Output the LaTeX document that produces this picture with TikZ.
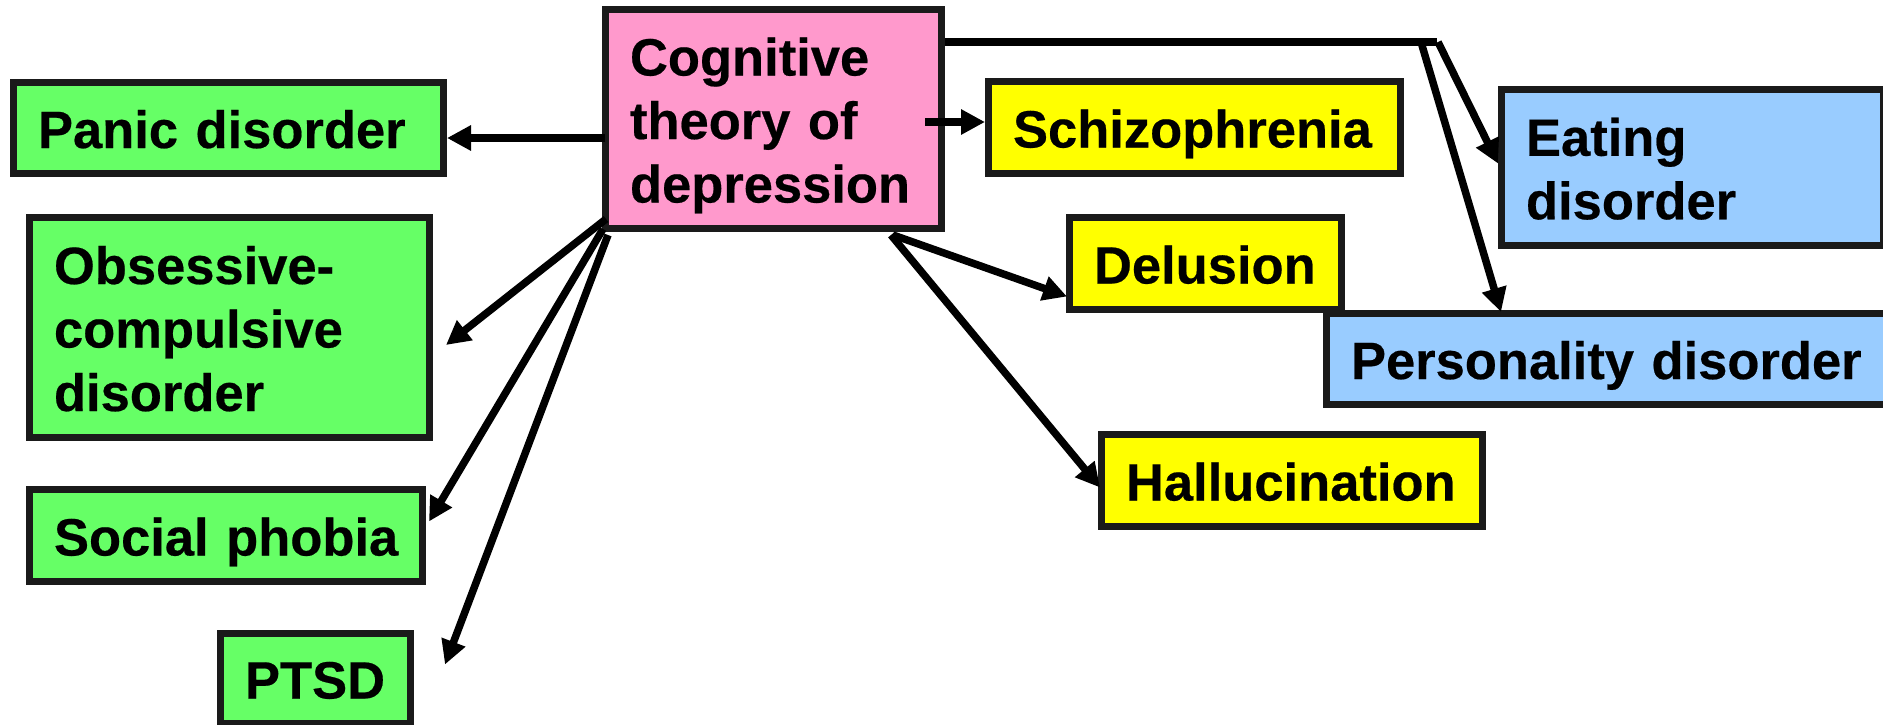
\documentclass[tikz,border=0pt]{standalone}
\usepackage{fontspec}
\setmainfont{Liberation Sans}[BoldFeatures={FakeBold=0.4}]
\usetikzlibrary{arrows.meta,calc}
\definecolor{pinkf}{HTML}{FF99CC}
\definecolor{greenf}{HTML}{66FF66}
\definecolor{yellowf}{HTML}{FFFF00}
\definecolor{bluef}{HTML}{99CCFF}
\definecolor{edgec}{HTML}{1A1A1A}
\newcommand{\fst}{\rule{0pt}{52pt}}
\newcommand{\lst}{\rule[-12pt]{0pt}{12pt}}
\begin{document}
\begin{tikzpicture}[x=1pt,y=-1pt,
  box/.style={draw=edgec, line width=7pt, inner xsep=24.5pt, inner ysep=0pt,
    align=left, font=\fontsize{52.5}{63.5}\selectfont\bfseries, anchor=center},
  conn/.style={line width=7.5pt, draw=black, -{Triangle[length=24pt,width=24pt]}},
  plain/.style={line width=7.5pt, draw=black},
]
\useasboundingbox (0,0) rectangle (1883,724);
\clip (0,0) rectangle (1883,724);
\fill[white] (0,0) rectangle (1883,724);

% boxes
\node[box, fill=pinkf, minimum width=336pt, minimum height=219pt, text width=287pt] (cog) at (773.5,119)
  {\fst Cognitive\\theory of\\depression\lst};
\node[box, fill=greenf, minimum width=430pt, minimum height=91pt, text width=381pt] (panic) at (228.5,128)
  {\fst\mbox{Panic disorder}\lst};
\node[box, fill=greenf, minimum width=400pt, minimum height=220pt, text width=351pt] (ocd) at (229.5,327.5)
  {\fst Obsessive-\\compulsive\\disorder\lst};
\node[box, fill=greenf, minimum width=393pt, minimum height=92pt, text width=344pt] (social) at (226,535.5)
  {\fst\mbox{Social phobia}\lst};
\node[box, fill=greenf, minimum width=190pt, minimum height=90pt, text width=141pt] (ptsd) at (315.5,678.5)
  {\fst\mbox{PTSD}\lst};
\node[box, fill=yellowf, minimum width=412pt, minimum height=92pt, text width=363pt] (schiz) at (1194.5,127.5)
  {\fst\mbox{Schizophrenia}\lst};
\node[box, fill=yellowf, minimum width=272pt, minimum height=92pt, text width=223pt] (delu) at (1205.5,263.5)
  {\fst\mbox{Delusion}\lst};
\node[box, fill=yellowf, minimum width=381pt, minimum height=92pt, text width=332pt] (hallu) at (1292,480.5)
  {\fst\mbox{Hallucination}\lst};
\node[box, fill=bluef, minimum width=381.5pt, minimum height=156pt, text width=332.5pt] (eat) at (1692.25,167.5)
  {\fst Eating\\disorder\lst};
\node[box, fill=bluef, minimum width=575pt, minimum height=91pt, text width=526pt] (pers) at (1614,359)
  {\fst\mbox{Personality disorder}\lst};

% junction coordinates on the top line
\coordinate (jend) at (1437,42);
\coordinate (jp) at (1421,42);
\coordinate (je) at (1438,42);

% connectors
\draw[conn] ($(cog.west)+(3,19)$) -- ($(panic.east)+(0,10)$);
\draw[conn] ($(cog.south west)+(4,-13)$) -- ($(ocd.east)+(13,17.5)$);
\draw[conn] ($(cog.south west)+(1,-3)$) -- ($(social.east)+(3,-14)$);
\draw[conn] ($(cog.south west)+(6,3)$) -- ($(ptsd.east)+(31,-14)$);
\draw[conn] ($(cog.east)+(-20,3)$) -- ($(schiz.west)+(0,-5.5)$);
\draw[conn] ($(cog.south east)+(-52,3)$) -- ($(delu.west)+(1,33)$);
\draw[conn] ($(cog.south east)+(-54,3)$) -- ($(hallu.west)+(2,7)$);
\draw[plain] (cog.east |- jend) -- (jend);
\draw[conn] (jp) -- ($(pers.north west)+(178,2)$);
\draw[conn] (je) -- ($(eat.west)+(0,-4)$);
\end{tikzpicture}
\end{document}
